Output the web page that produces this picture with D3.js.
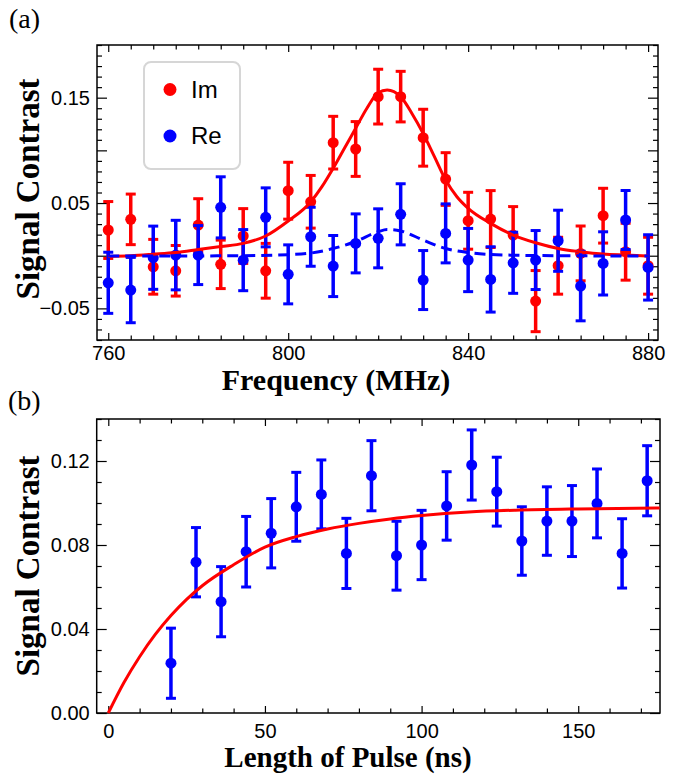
<!DOCTYPE html>
<html>
<head>
<meta charset="utf-8">
<script src="https://cdn.jsdelivr.net/npm/d3@7"></script>
<style>
  body { margin: 0; background: #fff; }
</style>
</head>
<body>
<svg id="chart" width="680" height="775"></svg>
<script>
// panel (a): signal vs frequency
const freq = [760, 765, 770, 775, 780, 785, 790, 795, 800, 805, 810, 815, 820,
  825, 830, 835, 840, 845, 850, 855, 860, 865, 870, 875, 880];
const imVals = [0.0244, 0.0345, -0.0105, -0.0143, 0.0291, -0.0082, 0.0187, -0.0143, 0.0617,
  0.0512, 0.1073, 0.1013, 0.151, 0.151, 0.112, 0.0728, 0.0332, 0.0348, 0.0196,
  -0.0431, -0.0095, 0.0022, 0.038, 0.0038, -0.0095];
const imErr = [0.027, 0.024, 0.026, 0.024, 0.025, 0.023, 0.026, 0.026, 0.027, 0.025,
  0.025, 0.026, 0.026, 0.024, 0.027, 0.025, 0.027, 0.027, 0.027, 0.029, 0.027,
  0.026, 0.026, 0.027, 0.027];
const reVals = [-0.0257, -0.0326, -0.0019, 0.0006, 0.0006, 0.0459, -0.0042, 0.0364, -0.0177,
  0.018, -0.0098, 0.0117, 0.0165, 0.0393, -0.0231, 0.0212, -0.0041, -0.0225,
  -0.0067, -0.0041, 0.0142, -0.0288, -0.0073, 0.0339, -0.0111];
const reErr = [0.029, 0.031, 0.030, 0.033, 0.028, 0.029, 0.029, 0.028, 0.028, 0.028,
  0.029, 0.028, 0.028, 0.029, 0.028, 0.028, 0.030, 0.031, 0.029, 0.028, 0.029,
  0.033, 0.030, 0.028, 0.031];

// fit curves
const imFitX = [760, 765, 770, 775, 780, 785, 790, 795, 800, 805, 807.5, 810, 812.5, 815,
  817.5, 820, 822, 825, 827.5, 830, 832.5, 835, 837.5, 840, 845, 850, 855, 860, 865,
  870, 875, 880];
const imFitY = [-0.0007, 0.0000, 0.0014, 0.0030, 0.0058, 0.0087, 0.0117, 0.0187, 0.0329,
  0.0510, 0.0655, 0.0830, 0.1020, 0.1210, 0.1400, 0.1547, 0.1573, 0.1510, 0.1350,
  0.1160, 0.0940, 0.0718, 0.0560, 0.0450, 0.0307, 0.0196, 0.0123, 0.0069, 0.0038,
  0.0016, 0.0006, -0.0003];
const reFitX = [760, 770, 780, 790, 800, 805, 810, 815, 820, 822, 825, 830, 835, 840, 845,
  850, 860, 870, 880];
const reFitY = [-0.0003, -0.0003, -0.0002, 0.0000, 0.0010, 0.0025, 0.0068, 0.0135, 0.0228,
  0.0248, 0.0235, 0.0148, 0.0068, 0.0030, 0.0012, 0.0005, 0.0000, -0.0002, -0.0003];

// panel (b): signal vs pulse length
const pulseLen = [20, 28, 36, 44, 52, 60, 68, 76, 84, 92, 100, 108, 116, 124, 132, 140,
  148, 156, 164, 172];
const pulseVals = [0.0237, 0.0718, 0.053, 0.0768, 0.0856, 0.0982, 0.1041, 0.076, 0.113,
  0.0749, 0.08, 0.0986, 0.1181, 0.1054, 0.0819, 0.0914, 0.0914, 0.0998, 0.076, 0.1106];
const pulseErr = [0.0167, 0.0165, 0.0167, 0.0168, 0.0165, 0.0164, 0.0164, 0.0167, 0.0167,
  0.0164, 0.0165, 0.0163, 0.0167, 0.0164, 0.0163, 0.0163, 0.0169, 0.0164, 0.0165, 0.0167];
const pulseFitX = [0, 5, 10, 15, 20, 25, 30, 40, 50, 60, 70, 80, 90, 100, 115, 130, 150, 176];
const pulseFitY = [0, 0.0145, 0.0268, 0.0374, 0.0464, 0.0541, 0.0606, 0.0706, 0.0790,
  0.0840, 0.0876, 0.0903, 0.0924, 0.0940, 0.0957, 0.0966, 0.0972, 0.0976];

const RED = '#ff0000';
const BLUE = '#0000ff';
const SANS = '"Liberation Sans", Arial, sans-serif';
const SERIF = '"Liberation Serif", "Times New Roman", serif';

const svg = d3.select('#chart');

function steps (a, b, s) {
  const n = Math.round((b - a) / s);
  return d3.range(n + 1).map(i => +(a + i * s).toFixed(6));
}

function drawFrame (x, y, t) {
  const [x0, x1] = x.range();
  const [y0, y1] = y.range();
  const g = svg.append('g');
  const isMajor = (v, list) => list.some(m => Math.abs(m - v) < 1e-9);
  const place = [
    ['b', d3.axisBottom, y0, t.xMinor, t.xMajor, x],
    ['t', d3.axisTop, y1, t.xMinor, t.xMajor, x],
    ['l', d3.axisLeft, x0, t.yMinor, t.yMajor, y],
    ['r', d3.axisRight, x1, t.yMinor, t.yMajor, y]
  ];
  place.forEach(([side, axisFn, pos, minor, major, scale]) => {
    const horiz = side === 'b' || side === 't';
    const minorOnly = minor.filter(v => !isMajor(v, major));
    const transform = horiz ? `translate(0,${pos})` : `translate(${pos},0)`;
    g.append('g')
      .attr('transform', transform)
      .call(axisFn(scale).tickValues(minorOnly).tickSize(horiz ? -4.5 : -5).tickFormat(''))
      .call(a => a.select('.domain').remove());
    const labels = side === 'b' ? t.xLabels : side === 'l' ? t.yLabels : [];
    const fmt = side === 'b' ? t.xFmt : t.yFmt;
    const pad = side === 'b' ? t.xPad : t.yPad;
    g.append('g')
      .attr('transform', transform)
      .call(axisFn(scale).tickValues(major).tickSize(horiz ? -7 : -10).tickPadding(pad)
        .tickFormat(v => isMajor(v, labels) ? fmt(v) : ''))
      .call(a => a.select('.domain').remove());
  });
  g.selectAll('.tick line').attr('stroke', '#000').attr('stroke-width', 1.2);
  g.selectAll('text')
    .attr('font-family', SANS)
    .attr('font-size', 20)
    .attr('fill', '#000');
  g.append('rect')
    .attr('x', x0)
    .attr('y', y1)
    .attr('width', x1 - x0)
    .attr('height', y0 - y1)
    .attr('fill', 'none')
    .attr('stroke', '#000')
    .attr('stroke-width', 1.5);
}

function drawErrorSeries (x, y, xs, vals, errs, color) {
  const pts = xs.map((v, i) => ({ x: v, y: vals[i], e: errs[i] }));
  const g = svg.append('g');
  g.selectAll('line.bar')
    .data(pts)
    .join('line')
    .attr('class', 'bar')
    .attr('x1', d => x(d.x))
    .attr('x2', d => x(d.x))
    .attr('y1', d => y(d.y - d.e))
    .attr('y2', d => y(d.y + d.e))
    .attr('stroke', color)
    .attr('stroke-width', 3.5);
  ['lo', 'hi'].forEach(end => {
    g.selectAll('line.cap-' + end)
      .data(pts)
      .join('line')
      .attr('class', 'cap-' + end)
      .attr('x1', d => x(d.x) - 5)
      .attr('x2', d => x(d.x) + 5)
      .attr('y1', d => y(end === 'lo' ? d.y - d.e : d.y + d.e))
      .attr('y2', d => y(end === 'lo' ? d.y - d.e : d.y + d.e))
      .attr('stroke', color)
      .attr('stroke-width', 3);
  });
  g.selectAll('circle')
    .data(pts)
    .join('circle')
    .attr('cx', d => x(d.x))
    .attr('cy', d => y(d.y))
    .attr('r', 5.5)
    .attr('fill', color);
}

function drawCurve (x, y, xs, ys, color, dash) {
  const line = d3.line()
    .x(d => x(d[0]))
    .y(d => y(d[1]))
    .curve(d3.curveMonotoneX);
  svg.append('path')
    .datum(xs.map((v, i) => [v, ys[i]]))
    .attr('d', line)
    .attr('fill', 'none')
    .attr('stroke', color)
    .attr('stroke-width', 3)
    .attr('stroke-dasharray', dash || null);
}

// ---- panel (a)
const xA = d3.scaleLinear().domain([757.5, 882.2]).range([97, 658]);
const yA = d3.scaleLinear().domain([-0.08, 0.20]).range([340, 45]);

drawFrame(xA, yA, {
  xMinor: steps(760, 880, 5),
  xMajor: [760, 800, 840, 880],
  xLabels: [760, 800, 840, 880],
  xFmt: d3.format('d'),
  xPad: 6,
  yMinor: steps(-0.08, 0.20, 0.01),
  yMajor: [-0.05, 0, 0.05, 0.1, 0.15],
  yLabels: [-0.05, 0.05, 0.15],
  yFmt: d3.format('.2f'),
  yPad: 7
});

drawErrorSeries(xA, yA, freq, imVals, imErr, RED);
drawErrorSeries(xA, yA, freq, reVals, reErr, BLUE);
drawCurve(xA, yA, imFitX, imFitY, RED);
drawCurve(xA, yA, reFitX, reFitY, BLUE, '11,6');

// legend
const legend = svg.append('g');
legend.append('rect')
  .attr('x', 144)
  .attr('y', 62)
  .attr('width', 96)
  .attr('height', 107)
  .attr('rx', 7)
  .attr('fill', '#fff')
  .attr('stroke', '#d6d6d6')
  .attr('stroke-width', 2);
const legendItems = [{ name: 'Im', color: RED }, { name: 'Re', color: BLUE }];
legend.selectAll('circle')
  .data(legendItems)
  .join('circle')
  .attr('cx', 170)
  .attr('cy', (d, i) => 89.5 + i * 46.5)
  .attr('r', 6.5)
  .attr('fill', d => d.color);
legend.selectAll('text')
  .data(legendItems)
  .join('text')
  .attr('x', 191)
  .attr('y', (d, i) => 97.5 + i * 46.5)
  .attr('font-family', SANS)
  .attr('font-size', 24)
  .attr('fill', '#000')
  .text(d => d.name);

// ---- panel (b)
const xB = d3.scaleLinear().domain([-3.7, 176.1]).range([96.7, 660]);
const yB = d3.scaleLinear().domain([0, 0.14]).range([713, 419]);

drawFrame(xB, yB, {
  xMinor: steps(0, 170, 10),
  xMajor: [0, 50, 100, 150],
  xLabels: [0, 50, 100, 150],
  xFmt: d3.format('d'),
  xPad: 11,
  yMinor: steps(0, 0.14, 0.01),
  yMajor: [0, 0.04, 0.08, 0.12],
  yLabels: [0, 0.04, 0.08, 0.12],
  yFmt: d3.format('.2f'),
  yPad: 7
});

drawErrorSeries(xB, yB, pulseLen, pulseVals, pulseErr, BLUE);
drawCurve(xB, yB, pulseFitX, pulseFitY, RED);

// ---- titles
const titles = [
  { text: '(a)', x: 9, y: 28, size: 28, weight: 'normal', anchor: 'start' },
  { text: '(b)', x: 8, y: 410, size: 28, weight: 'normal', anchor: 'start' },
  { text: 'Frequency (MHz)', x: 336, y: 390, size: 30, weight: 'bold', anchor: 'middle' },
  { text: 'Length of Pulse (ns)', x: 348, y: 767, size: 29, weight: 'bold', anchor: 'middle' },
  { text: 'Signal Contrast', x: 39, y: 189, size: 33, weight: 'bold', anchor: 'middle', rot: true },
  { text: 'Signal Contrast', x: 39, y: 566, size: 33, weight: 'bold', anchor: 'middle', rot: true }
];
svg.selectAll('text.title')
  .data(titles)
  .join('text')
  .attr('class', 'title')
  .attr('transform', d => `translate(${d.x},${d.y})` + (d.rot ? ' rotate(-90)' : ''))
  .attr('text-anchor', d => d.anchor)
  .attr('font-family', SERIF)
  .attr('font-size', d => d.size)
  .attr('font-weight', d => d.weight)
  .attr('fill', '#000')
  .text(d => d.text);
</script>
</body>
</html>
